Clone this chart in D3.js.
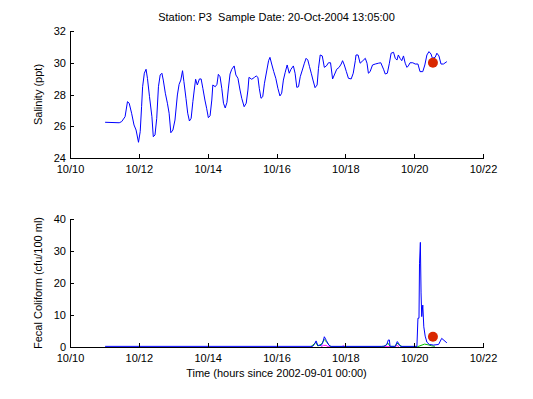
<!DOCTYPE html>
<html><head><meta charset="utf-8">
<script src="https://cdn.jsdelivr.net/npm/d3@7"></script>
<style>
html,body{margin:0;padding:0;background:#fff;}
text{font-family:"Liberation Sans",Arial,Helvetica,sans-serif;font-size:11px;fill:#000;white-space:pre;}
</style></head>
<body>
<svg id="c" width="533" height="399"></svg>
<script>
// ---- data (time = day of October 2004) ----
const titleText = "Station: P3  Sample Date: 20-Oct-2004 13:05:00";
const xTicks = [10, 12, 14, 16, 18, 20, 22];
const xTickLabels = ["10/10", "10/12", "10/14", "10/16", "10/18", "10/20", "10/22"];
const salTicks = [24, 26, 28, 30, 32];
const fcTicks = [0, 10, 20, 30, 40];

const salTime = [
 11.02,11.43,11.50,11.60,11.67,11.72,11.79,11.86,11.92,11.99,
 12.04,12.08,12.11,12.16,12.21,12.25,12.31,12.38,12.42,12.47,
 12.52,12.57,12.62,12.67,12.71,12.77,12.83,12.88,12.93,12.99,
 13.05,13.12,13.17,13.22,13.27,13.31,13.37,13.42,13.47,13.52,
 13.57,13.61,13.65,13.70,13.76,13.81,13.86,13.92,13.97,14.02,
 14.07,14.12,14.15,14.22,14.27,14.31,14.36,14.41,14.46,14.51,
 14.56,14.60,14.65,14.70,14.77,14.82,14.88,14.94,14.99,15.06,
 15.12,15.17,15.20,15.28,15.36,15.41,15.46,15.50,15.55,15.60,
 15.65,15.72,15.77,15.81,15.86,15.92,15.98,16.04,16.10,16.15,
 16.20,16.25,16.31,16.37,16.42,16.49,16.54,16.59,16.64,16.69,
 16.75,16.81,16.86,16.91,16.96,17.01,17.06,17.12,17.18,17.22,
 17.27,17.33,17.39,17.45,17.51,17.57,17.63,17.68,17.75,17.82,
 17.88,17.92,17.97,18.03,18.09,18.17,18.23,18.29,18.31,18.37,
 18.43,18.51,18.58,18.63,18.67,18.72,18.79,18.87,18.96,19.03,
 19.11,19.16,19.22,19.28,19.33,19.40,19.45,19.50,19.54,19.59,
 19.64,19.69,19.74,19.79,19.83,19.88,19.96,20.03,20.11,20.17,
 20.25,20.31,20.37,20.43,20.49,20.53,20.61,20.66,20.72,20.78,
 20.85,20.95];
const salValue = [
 26.25,26.22,26.29,26.60,27.55,27.45,26.82,26.08,25.76,24.99,
 25.66,27.23,28.49,29.34,29.59,29.02,27.86,26.60,25.34,25.45,
 26.50,28.49,29.23,29.34,28.91,28.08,27.45,26.82,25.59,25.76,
 26.39,27.97,28.64,28.91,29.50,28.81,27.76,26.82,26.33,26.50,
 27.55,28.28,28.96,28.60,28.98,28.98,28.39,27.65,27.13,26.54,
 26.66,27.65,28.60,28.49,28.64,29.27,29.12,28.39,27.45,27.15,
 27.50,28.35,29.29,29.59,29.80,29.23,29.02,28.28,27.76,27.23,
 27.45,28.28,29.08,28.96,29.08,29.17,29.08,28.39,27.76,27.86,
 28.71,29.54,30.13,30.34,29.92,29.44,29.02,28.39,27.91,28.08,
 28.91,29.37,29.86,29.34,29.59,29.80,29.34,28.45,28.49,29.12,
 29.54,29.97,30.28,30.17,29.75,29.34,28.91,28.43,28.60,29.65,
 30.49,30.43,29.71,29.80,30.00,30.00,28.98,29.23,29.59,29.71,
 29.92,30.13,29.86,29.44,29.02,28.98,29.34,30.13,30.49,30.49,
 29.97,30.13,30.28,29.97,29.34,29.44,29.86,29.92,29.97,30.00,
 29.59,29.29,29.34,29.97,30.60,30.66,30.28,30.17,30.49,30.28,
 30.13,30.43,29.97,29.71,29.80,30.00,30.00,29.92,29.92,29.44,
 29.44,29.86,30.49,30.70,30.55,30.28,30.34,30.60,30.43,29.92,
 29.92,30.07];

const fcTime = [11.02,17.05,17.10,17.15,17.20,17.30,17.35,17.39,17.45,17.52,17.58,
 19.05,19.15,19.20,19.25,19.28,19.30,19.45,19.51,19.56,19.60,
 20.08,20.11,20.14,20.155,20.18,20.20,20.22,20.25,20.28,20.32,20.37,20.44,20.56,20.71,20.80,20.95];
const fcValue = [0.2,0.2,0.8,1.9,0.5,0.5,1.5,3.2,2.0,0.6,0.2,
 0.2,0.3,0.7,2.2,2.2,0.2,0.2,1.7,0.9,0.2,
 0.2,9.0,9.0,26.0,32.7,16.9,9.5,13.1,6.3,3.4,1.5,0.8,0.6,0.8,2.7,1.3];

const fcGreenTime = [17.00,17.10,17.14,17.20,17.32,17.38,17.46,17.55,17.60,
 19.10,19.18,19.24,19.30,19.45,19.50,19.58,19.65,20.10,20.30,20.40,20.50,20.60];
const fcGreenValue = [0.1,1.0,1.5,0.3,1.0,2.4,1.5,0.3,0.1,
 0.1,0.6,1.2,0.2,0.2,1.2,0.6,0.1,0.1,0.9,0.7,0.4,0.2];

const fcMagTime = [17.30,17.36,17.44,17.50,17.90,17.94,17.98,19.46,19.50,19.56];
const fcMagValue = [0.1,0.5,0.5,0.1,0.1,0.4,0.1,0.1,0.5,0.1];

const sampleTime = 20 + 13 / 24 + 5 / 1440;
const sampleSal = 30.0;
const sampleFc = 3.2;

// ---- drawing ----
const svg = d3.select("#c");
svg.append("rect").attr("width", 533).attr("height", 399).attr("fill", "#fff");

const x = d3.scaleLinear().domain([10, 22]).range([70, 483]);
const ySal = d3.scaleLinear().domain([24, 32]).range([158, 31]);
const yFc = d3.scaleLinear().domain([0, 40]).range([347, 219]);

function drawAxes(y, yTicks, y0) {
  const gx = svg.append("g").attr("transform", `translate(0,${y0})`)
    .call(d3.axisBottom(x).tickValues(xTicks)
      .tickFormat((d, i) => xTickLabels[i])
      .tickSizeInner(-4).tickSizeOuter(0).tickPadding(7));
  const gy = svg.append("g").attr("transform", "translate(70,0)")
    .call(d3.axisLeft(y).tickValues(yTicks).tickSizeInner(-4).tickSizeOuter(0).tickPadding(4));
  [gx, gy].forEach(g => {
    g.selectAll("path,line").attr("stroke", "#000").attr("shape-rendering", "crispEdges");
    g.selectAll("text").attr("font-size", 11)
      .attr("font-family", '"Liberation Sans",Arial,Helvetica,sans-serif').attr("fill", "#000");
  });
}

function drawLine(times, values, y, color) {
  const pts = times.map((t, i) => [t, values[i]]);
  svg.append("path").datum(pts)
    .attr("fill", "none").attr("stroke", color).attr("stroke-width", 1)
    .attr("d", d3.line().x(d => x(d[0])).y(d => y(d[1])));
}

// top panel
drawLine(salTime, salValue, ySal, "#0000ff");
drawAxes(ySal, salTicks, 158);
svg.append("circle").attr("cx", x(sampleTime)).attr("cy", ySal(sampleSal)).attr("r", 5)
  .attr("fill", "#d92800");

// bottom panel
drawLine(fcMagTime, fcMagValue, yFc, "#ff00ff");
drawLine(fcGreenTime, fcGreenValue, yFc, "#00c000");
drawLine(fcTime, fcValue, yFc, "#0000ff");
drawAxes(yFc, fcTicks, 347);
svg.append("circle").attr("cx", x(sampleTime)).attr("cy", yFc(sampleFc)).attr("r", 5)
  .attr("fill", "#d92800");

// texts
svg.append("text").attr("x", 276.5).attr("y", 21).attr("text-anchor", "middle")
  .attr("xml:space", "preserve").text(titleText);
svg.append("text").attr("transform", "translate(42,94.5) rotate(-90)")
  .attr("text-anchor", "middle").text("Salinity (ppt)");
svg.append("text").attr("transform", "translate(42,283) rotate(-90)")
  .attr("text-anchor", "middle").text("Fecal Coliform (cfu/100 ml)");
svg.append("text").attr("x", 276.5).attr("y", 377).attr("text-anchor", "middle")
  .text("Time (hours since 2002-09-01 00:00)");
</script>
</body></html>
